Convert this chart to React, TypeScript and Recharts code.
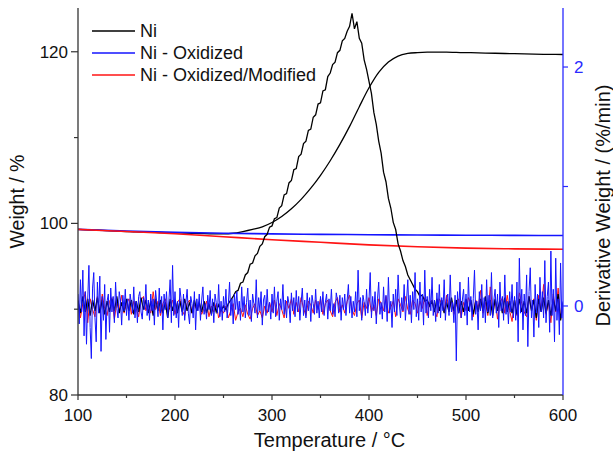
import React from 'react';
import { ComposedChart, Line, XAxis, YAxis, Legend, Label } from 'recharts';

// ---------- Data ----------
const xTicks = [100, 150, 200, 250, 300, 350, 400, 450, 500, 550, 600];
const xLabelTicks = [100, 200, 300, 400, 500, 600];
const leftTicks = [80, 90, 100, 110, 120];
const leftLabelTicks = [80, 100, 120];
const rightTicks = [0, 1, 2];
const rightLabelTicks = [0, 2];

// Weight curves (left axis, %)
const niWeightTemp = [100, 110, 120, 130, 140, 150, 160, 170, 180, 190, 200, 210, 220, 230, 240, 250, 260, 270, 280, 290, 300, 310, 320, 330, 340, 350, 360, 370, 380, 390, 400, 410, 420, 430, 440, 450, 460, 470, 480, 490, 500, 520, 540, 560, 580, 600];
const niWeight = [99.3, 99.25, 99.2, 99.15, 99.1, 99.05, 99.0, 98.98, 98.95, 98.92, 98.9, 98.87, 98.84, 98.8, 98.78, 98.78, 98.85, 99.05, 99.3, 99.6, 100.1, 100.8, 101.7, 102.8, 104.1, 105.6, 107.3, 109.2, 111.3, 113.6, 115.8, 117.6, 118.8, 119.5, 119.8, 119.9, 119.95, 119.95, 119.95, 119.92, 119.9, 119.85, 119.8, 119.75, 119.7, 119.68];

const oxWeightTemp = [100, 150, 200, 250, 300, 350, 400, 450, 500, 550, 600];
const oxWeight = [99.3, 99.1, 98.95, 98.85, 98.78, 98.72, 98.68, 98.65, 98.62, 98.6, 98.58];
const modWeight = [99.3, 99.05, 98.8, 98.45, 98.1, 97.8, 97.5, 97.28, 97.12, 97.03, 96.98];

// Derivative curves (right axis, %/min)
const dtgStart = 100;
const niDerivStep = 2.5;
const niDeriv = [
  0.04, -0.06, 0.08, -0.05, 0.06, -0.08, 0.05, -0.04, 0.07, -0.06,
  0.05, -0.07, 0.04, -0.05, 0.06, -0.04, 0.08, -0.06, 0.03, -0.05,
  0.06, -0.04, 0.05, -0.07, 0.04, -0.05, 0.07, -0.03, 0.05, -0.06,
  0.04, -0.08, 0.06, -0.04, 0.05, -0.06, 0.03, -0.1, 0.06, -0.04,
  0.05, -0.06, 0.04, -0.05, 0.06, -0.04, 0.03, -0.06, 0.05, -0.04,
  0.03, -0.05, 0.04, -0.06, 0.02, -0.07, 0.03, -0.05, 0.01, -0.04,
  0.0, -0.03,
  0.02, 0.05, 0.08, 0.12, 0.13, 0.19, 0.2, 0.26, 0.28, 0.35,
  0.36, 0.42, 0.44, 0.5, 0.52, 0.58, 0.6, 0.66, 0.67, 0.73,
  0.74, 0.82, 0.84, 0.93, 0.94, 1.03, 1.05, 1.14, 1.15, 1.25,
  1.27, 1.36, 1.38, 1.47, 1.48, 1.58, 1.6, 1.69, 1.7, 1.8,
  1.81, 1.92, 1.95, 2.02, 2.04, 2.12, 2.14, 2.22, 2.24, 2.3,
  2.34, 2.45, 2.32, 2.38, 2.24, 2.2, 2.06, 1.98, 1.88, 1.78,
  1.62, 1.52, 1.38, 1.28, 1.12, 1.04, 0.9, 0.82, 0.7, 0.64,
  0.52, 0.46, 0.38, 0.33, 0.26, 0.22, 0.18, 0.14, 0.12, 0.08,
  0.09, 0.04, 0.05, 0.0,
  0.04, -0.05, 0.06, -0.04,
  0.05, -0.06, 0.03, -0.05, 0.07, -0.04, 0.05, -0.06, 0.04, -0.05,
  0.06, -0.04, 0.05, -0.07, 0.04, -0.05, 0.06, -0.04, 0.08, -0.06,
  0.05, -0.08, 0.06, -0.04, 0.05, -0.06, 0.07, -0.05, 0.04, -0.06,
  0.05, -0.07, 0.06, -0.05, 0.04, -0.06, 0.08, -0.04, 0.05, -0.1,
  0.06, -0.05, 0.07, -0.06, 0.05, -0.08, 0.06, -0.04, 0.1, -0.12, 0.03,
];
const oxDerivStep = 1.25;
const oxDeriv = [
  0.1, -0.15, 0.22, -0.05, 0.3, -0.25, 0.12, -0.32, 0.05, 0.34, -0.18, -0.44, 0.15, 0.28, -0.1, -0.3, 0.2, -0.06, 0.25, -0.38,
  0.08, -0.12, 0.18, -0.28, 0.04, 0.1, -0.22, 0.15, -0.05, 0.08, -0.14, 0.2, -0.02, -0.1, 0.12, 0.05, -0.16, 0.09, -0.04, 0.14,
  -0.08, 0.06, -0.12, 0.1, 0.02, -0.06, 0.16, -0.1, 0.04, -0.14, 0.08, 0.12, -0.05, -0.11, 0.07, -0.03, 0.18, -0.08, 0.05, -0.12,
  0.1, -0.04, 0.06, -0.16, 0.13, 0.02, -0.09, 0.15, -0.06, 0.08, -0.2, 0.1, -0.03, 0.12, -0.1, 0.05, 0.22, -0.14, 0.34, -0.08,
  0.12, -0.1, 0.04, -0.18, 0.15, 0.06, -0.08, 0.1, -0.12, 0.03, 0.14, -0.06, -0.15, 0.08, 0.02, -0.1, 0.12, -0.2, 0.06, -0.04,
  0.1, -0.12, 0.05, 0.16, -0.07, 0.02, -0.11, 0.09, -0.03, 0.13, -0.08, 0.06, -0.14, 0.1, 0.03, -0.06, 0.18, -0.09, 0.04, -0.12,
  0.08, -0.05, 0.14, -0.1, 0.02, 0.2, -0.08, 0.06, -0.15, 0.1, -0.03, 0.12, -0.07, 0.04, -0.12, 0.16, -0.05, 0.08, -0.1, 0.03,
  0.15, -0.08, 0.05, -0.13, 0.1, 0.02, -0.06, 0.22, -0.1, 0.07, -0.04, 0.12, -0.16, 0.05, 0.09, -0.08, 0.14, -0.05, 0.03, -0.11,
  0.1, -0.06, 0.16, -0.09, 0.04, 0.12, -0.12, 0.06, -0.03, 0.18, -0.07, 0.05, -0.1, 0.08, 0.02, -0.14, 0.11, -0.04, 0.07, -0.09,
  0.13, -0.05, 0.08, -0.12, 0.03, 0.15, -0.08, 0.05, -0.1, 0.11, -0.04, 0.07, -0.13, 0.09, 0.02, -0.07, 0.14, -0.06, 0.04, -0.1,
  0.08, -0.05, 0.12, -0.08, 0.03, 0.1, -0.11, 0.06, -0.04, 0.14, -0.07, 0.02, -0.09, 0.11, 0.05, -0.06, 0.09, -0.12, 0.07, -0.03,
  0.1, -0.08, 0.05, 0.18, -0.06, 0.08, -0.1, 0.04, -0.05, 0.12, -0.09, 0.3, -0.04, 0.07, -0.12, 0.09, 0.03, -0.08, 0.14, -0.06,
  0.05, 0.28, -0.1, 0.08, -0.04, 0.12, -0.15, 0.06, 0.2, -0.07, 0.03, -0.11, 0.16, -0.05, 0.09, -0.13, 0.24, -0.06, 0.04, -0.18,
  0.1, -0.05, 0.14, -0.08, 0.26, 0.02, -0.1, 0.07, -0.04, 0.18, -0.12, 0.05, 0.22, -0.07, 0.09, -0.14, 0.12, -0.03, 0.28, -0.09,
  0.06, -0.12, 0.2, -0.05, 0.1, -0.16, 0.3, -0.06, 0.08, -0.1, 0.14, -0.04, 0.24, -0.08, 0.05, -0.13, 0.11, -0.06, 0.18, -0.1,
  0.07, -0.04, 0.22, -0.12, 0.06, 0.1, -0.08, 0.26, -0.05, 0.03, -0.14, 0.09, -0.46, 0.12, -0.06, 0.2, -0.1, 0.05, 0.14, -0.08,
  0.1, -0.16, 0.24, -0.05, 0.08, -0.12, 0.06, 0.3, -0.07, 0.04, -0.2, 0.12, -0.04, 0.18, -0.1, 0.07, -0.14, 0.22, -0.05, 0.09,
  -0.08, 0.28, -0.1, 0.05, 0.14, -0.06, 0.1, -0.18, 0.2, -0.04, 0.08, -0.12, 0.26, -0.07, 0.04, -0.15, 0.12, -0.05, 0.18, -0.1,
  0.08, -0.12, 0.2, -0.3, 0.4, -0.06, 0.14, -0.2, 0.1, -0.08, 0.26, -0.34, 0.12, 0.32, -0.1, 0.05, -0.26, 0.18, -0.06, 0.1,
  -0.18, 0.24, -0.05, 0.12, -0.1, 0.38, -0.14, 0.08, 0.2, -0.22, 0.46, -0.08, 0.14, -0.3, 0.4, -0.12, 0.06, -0.24, 0.36, -0.1,
  0.04,
];
const modDerivStep = 2.5;
const modDeriv = [
  0.05, -0.1, 0.02, 0.12, -0.14, 0.06, -0.03, -0.09, 0.08, -0.05,
  0.1, -0.02, -0.08, 0.04, 0.07, -0.11, 0.03, -0.04, 0.09, -0.06,
  0.02, 0.06, -0.07, 0.04, -0.02, -0.09, 0.05, 0.08, -0.04, 0.01,
  -0.06, 0.12, -0.03, 0.04, -0.08, 0.02, 0.06, -0.05, -0.01, 0.05,
  -0.07, 0.03, 0.06, -0.04, -0.08, 0.02, 0.05, -0.06, 0.01, -0.03,
  0.02, -0.07, -0.02, 0.04, -0.09, 0.0, -0.05, 0.02, -0.1, -0.03,
  -0.06, 0.0, -0.1, -0.04, 0.02, -0.12, -0.05, -0.02, -0.09, 0.01,
  -0.07, -0.11, -0.02, 0.02, -0.08, -0.04, -0.1, 0.0, -0.06, 0.03,
  -0.05, 0.05, -0.08, 0.02, -0.03, -0.1, 0.04, -0.02, 0.06, -0.07,
  0.03, -0.05, 0.07, -0.02, -0.08, 0.04, 0.01, -0.06, 0.05, -0.03,
  0.06, -0.07, 0.02, 0.05, -0.04, -0.09, 0.03, 0.07, -0.05, 0.01,
  -0.06, 0.04, 0.09, -0.03, -0.08, 0.02, 0.05, -0.1, 0.03, -0.02,
  0.07, -0.05, 0.01, -0.08, 0.06, 0.02, -0.04, 0.08, -0.06, -0.01,
  0.04, -0.09, 0.06, 0.01, -0.05, 0.08, -0.03, -0.07, 0.05, 0.02,
  -0.06, 0.04, -0.02, 0.07, -0.08, 0.03, 0.05, -0.04, -0.09, 0.06,
  0.02, -0.05, 0.09, -0.03, 0.04, -0.07, 0.01, 0.06, -0.1, 0.03,
  -0.04, 0.07, 0.02, -0.09, 0.05, -0.02, 0.13, -0.06, 0.03, -0.08,
  0.16, -0.03, 0.05, -0.11, 0.02, 0.07, -0.06, 0.09, -0.04, -0.13,
  0.05, -0.08, 0.11, 0.02, -0.05, -0.09, 0.08, -0.03, 0.06, -0.12,
  0.09, -0.04, 0.18, -0.07, 0.03, -0.14, 0.1, -0.05, 0.15, -0.11, 0.02,
];

const seriesNames = ['Ni', 'Ni - Oxidized', 'Ni - Oxidized/Modified'];
const seriesColors = ['#000000', '#1414ff', '#ff1414'];

// ---------- Tables built from arrays ----------
const niWeightData = niWeightTemp.map((t, i) => ({ t, w: niWeight[i] }));
const oxWeightData = oxWeightTemp.map((t, i) => ({ t, w: oxWeight[i] }));
const modWeightData = oxWeightTemp.map((t, i) => ({ t, w: modWeight[i] }));
const toDtg = (arr: number[], step: number) => arr.map((d, i) => ({ t: dtgStart + step * i, d }));
const niDerivData = toDtg(niDeriv, niDerivStep);
const oxDerivData = toDtg(oxDeriv, oxDerivStep);
const modDerivData = toDtg(modDeriv, modDerivStep);

const FONT = 'Arial, "Liberation Sans", Helvetica, sans-serif';
const AXIS = '#333333';
const BLUE = '#2a2aff';
const TICK_FONT = 17;

const BottomTick = (props: any) => {
  const { x, y, payload } = props;
  const major = xLabelTicks.includes(payload.value);
  return (
    <g>
      <line x1={x} y1={y} x2={x} y2={y + (major ? 5 : 3)} stroke={AXIS} strokeWidth={1.2} />
      {major && (
        <text x={x} y={y + 26} textAnchor="middle" fontSize={TICK_FONT} fontFamily={FONT} fill="#111">
          {payload.value}
        </text>
      )}
    </g>
  );
};

const TopTick = (props: any) => {
  const { x, y, payload } = props;
  const major = xLabelTicks.includes(payload.value);
  return <line x1={x} y1={y} x2={x} y2={y + (major ? 6 : 4)} stroke={AXIS} strokeWidth={1.2} />;
};

const LeftTick = (props: any) => {
  const { x, y, payload } = props;
  const major = leftLabelTicks.includes(payload.value);
  return (
    <g>
      <line x1={x} y1={y} x2={x - (major ? 7 : 4)} y2={y} stroke={AXIS} strokeWidth={1.2} />
      {major && (
        <text x={x - 10} y={y + 6} textAnchor="end" fontSize={TICK_FONT} fontFamily={FONT} fill="#111">
          {payload.value}
        </text>
      )}
    </g>
  );
};

const RightTick = (props: any) => {
  const { x, y, payload } = props;
  const major = rightLabelTicks.includes(payload.value);
  return (
    <g>
      <line x1={x} y1={y} x2={x + 5} y2={y} stroke={BLUE} strokeWidth={1.2} />
      {major && (
        <text x={x + 11} y={y + 6} textAnchor="start" fontSize={TICK_FONT} fontFamily={FONT} fill={BLUE}>
          {payload.value}
        </text>
      )}
    </g>
  );
};

const LegendContent = () => (
  <div style={{ fontFamily: FONT, fontSize: 18, color: '#111', lineHeight: '22px' }}>
    {seriesNames.map((n, i) => (
      <div key={n} style={{ display: 'flex', alignItems: 'center', height: 22 }}>
        <svg width={48} height={6}>
          <line x1={0} y1={3} x2={43} y2={3} stroke={seriesColors[i]} strokeWidth={1.6} />
        </svg>
        <span>{n}</span>
      </div>
    ))}
  </div>
);

export default function App() {
  return (
    <div style={{ position: 'absolute', left: 0, top: 0, background: '#fff' }}>
      <ComposedChart width={613} height={452} margin={{ top: 8, right: 0, bottom: 0, left: 0 }}>
        <XAxis
          xAxisId="b"
          type="number"
          dataKey="t"
          domain={[100, 600]}
          ticks={xTicks}
          interval={0}
          allowDataOverflow
          height={57}
          tickSize={0}
          tickMargin={0}
          tickLine={false}
          tick={<BottomTick />}
          axisLine={{ stroke: AXIS, strokeWidth: 1.3 }}
        >
          <Label
            value="Temperature / °C"
            position="center"
            dx={9}
            dy={16}
            style={{ fontSize: 20, fontFamily: FONT, fill: '#111' }}
          />
        </XAxis>
        <XAxis
          xAxisId="top"
          orientation="top"
          type="number"
          dataKey="t"
          domain={[100, 600]}
          ticks={xTicks}
          interval={0}
          allowDataOverflow
          height={0}
          tickSize={0}
          tickMargin={0}
          tickLine={false}
          tick={<TopTick />}
          axisLine={{ stroke: AXIS, strokeWidth: 1.3 }}
        />
        <YAxis
          yAxisId="w"
          orientation="left"
          type="number"
          domain={[80, 125.1]}
          ticks={leftTicks}
          interval={0}
          allowDataOverflow
          width={78}
          tickSize={0}
          tickMargin={0}
          tickLine={false}
          tick={<LeftTick />}
          axisLine={{ stroke: AXIS, strokeWidth: 1.3 }}
        >
          <Label
            value="Weight / %"
            position="center"
            angle={-90}
            dx={-22}
            style={{ fontSize: 19.5, fontFamily: FONT, fill: '#111', textAnchor: 'middle' }}
          />
        </YAxis>
        <YAxis
          yAxisId="d"
          orientation="right"
          type="number"
          domain={[-0.745, 2.494]}
          ticks={rightTicks}
          interval={0}
          allowDataOverflow
          width={50}
          tickSize={0}
          tickMargin={0}
          tickLine={false}
          tick={<RightTick />}
          axisLine={{ stroke: BLUE, strokeWidth: 1.3 }}
        >
          <Label
            value="Derivative Weight / (%/min)"
            position="center"
            angle={-90}
            dx={15}
            dy={4}
            style={{ fontSize: 20, fontFamily: FONT, fill: '#111', textAnchor: 'middle' }}
          />
        </YAxis>

        <Line xAxisId="b" yAxisId="w" data={niWeightData} dataKey="w" type="monotone" stroke={seriesColors[0]} strokeWidth={1.3} dot={false} isAnimationActive={false} name={seriesNames[0]} />
        <Line xAxisId="b" yAxisId="w" data={oxWeightData} dataKey="w" type="monotone" stroke={seriesColors[1]} strokeWidth={1.6} dot={false} isAnimationActive={false} name={seriesNames[1]} />
        <Line xAxisId="b" yAxisId="w" data={modWeightData} dataKey="w" type="monotone" stroke={seriesColors[2]} strokeWidth={1.6} dot={false} isAnimationActive={false} name={seriesNames[2]} />
        <Line xAxisId="b" yAxisId="d" data={modDerivData} dataKey="d" type="linear" stroke={seriesColors[2]} strokeWidth={1} dot={false} isAnimationActive={false} legendType="none" />
        <Line xAxisId="b" yAxisId="d" data={niDerivData} dataKey="d" type="linear" stroke={seriesColors[0]} strokeWidth={1.3} dot={false} isAnimationActive={false} legendType="none" />
        <Line xAxisId="b" yAxisId="d" data={oxDerivData} dataKey="d" type="linear" stroke={seriesColors[1]} strokeWidth={1} dot={false} isAnimationActive={false} legendType="none" />

        <Legend
          layout="vertical"
          verticalAlign="middle"
          align="center"
          content={<LegendContent />}
          wrapperStyle={{ left: 92, top: 20, width: 280, height: 66 }}
        />
      </ComposedChart>
    </div>
  );
}
